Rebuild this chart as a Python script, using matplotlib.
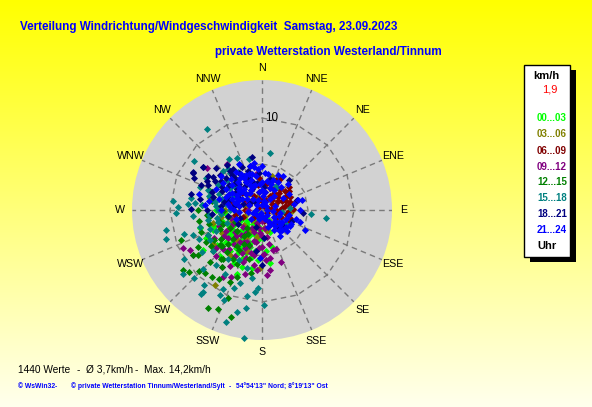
import numpy as np
import matplotlib
matplotlib.use('Agg')
import matplotlib.pyplot as plt
from matplotlib.patches import Rectangle

plt.rcParams['font.family'] = ['Liberation Sans', 'DejaVu Sans']

# ---------------- data (direction in degrees, speed in km/h) ----------------
groups = ['00...03', '03...06', '06...09', '09...12', '12...15', '15...18', '18...21', '21...24']
group_colors = ['#00ff00', '#808000', '#800000', '#800080', '#008000', '#008080', '#000080', '#0000ff']

A_dir = [165,171,190,201,199,254,236,319,356,
         200,205,210,215,220,225,230,235,240,245,
         210,195,190,185,200,205,215,220,225,230,
         235,240,250,255,245,200,210,218,228,238,
         195,188,182,208,222,232,248,212,226,178,
         260,265,270,175,185,192,203,214,243,252,
         215,222,232,208,198,218,228,238,242,205,
         195,230,212,202,250,220,235,225,
         180,150,140,160,200,230]
A_spd = [4.2,5.8,6.4,7.5,6.6,7.0,7.8,4.5,3.0,
         2.0,3.0,4.0,5.0,3.5,4.5,2.5,5.5,3.0,4.0,
         1.5,3.5,4.5,5.5,5.0,6.0,2.5,6.0,3.0,4.0,
         2.0,5.0,3.5,4.5,2.5,3.8,5.5,4.2,5.2,3.8,
         2.8,3.3,4.0,6.5,6.8,6.2,5.8,3.2,2.2,3.0,
         3.0,4.0,5.0,4.5,2.2,5.2,4.8,1.8,6.8,5.5,
         3.8,4.8,4.6,4.6,4.2,5.6,3.6,4.6,3.4,2.4,
         1.8,5.8,6.2,5.6,4.8,3.0,4.2,5.2,
         0.8,1.2,2.0,2.5,0.9,0.7]

B_dir = [16,92,212,182,167,283,
         210,230,250,270,290,300,260,240,220,280,
         320,340,30,60,200,215,235,255,245,225,
         265,285,310,190,175,120,
         230,250,270,210,290,240]
B_spd = [3.9,3.3,9.6,6.3,2.3,5.8,
         2.5,3.5,2.0,3.0,4.0,2.5,4.5,5.0,4.2,1.8,
         2.2,1.5,1.8,2.0,4.8,6.0,6.5,5.5,3.0,1.5,
         2.6,5.5,3.5,3.0,2.0,1.5,
         2.5,3.5,4.0,3.5,2.8,4.0]

C_dir = [0,10,20,30,40,50,60,70,80,90,
         100,110,120,350,340,330,320,310,300,290,
         280,270,355,345,15,25,35,45,55,65,
         75,85,95,105,115,125,135,150,170,200,
         230,250,260,285,315,325,5,60,75,50,
         30,88,
         20,40,60,80,100,30,50,70,90,350,
         330,10,45,65,85,
         30,120,210,300,80]
C_spd = [1.0,2.0,2.5,1.8,3.0,2.2,3.0,1.5,2.5,2.0,
         1.5,2.2,1.8,2.0,3.0,2.5,1.5,2.8,2.0,1.5,
         2.5,1.8,3.5,1.2,3.2,3.6,2.2,1.5,3.6,2.4,
         3.2,1.0,2.8,3.2,3.0,2.6,2.0,1.5,1.2,1.5,
         1.2,2.2,3.0,3.4,3.6,1.0,2.8,1.2,3.8,3.9,
         3.9,3.4,
         1.2,2.0,2.0,3.0,2.6,2.8,3.2,2.8,1.5,2.8,
         1.8,3.0,2.6,3.4,2.2,
         0.5,0.6,0.7,0.5,0.8]

D_dir = [323,307,244,241,237,176,171,205,210,
         170,180,190,200,210,220,230,175,185,195,
         205,215,225,235,185,165,160,195,215,225,
         240,250,200,190,180,170,210,220,230,245,
         255,205,198,188,178,168,210,228,270,300,
         330,350,160,172,
         190,200,210,220,230,185,195,205,215,225,
         240,180,180,150,200]
D_spd = [6.3,7.5,9.5,9.0,8.9,7.1,5.3,8.0,8.4,
         3.0,4.0,5.0,6.0,7.0,5.5,6.5,5.5,6.5,3.5,
         4.5,3.0,4.0,5.0,2.5,4.5,6.0,7.2,7.5,7.0,
         6.0,5.0,2.5,2.0,2.8,2.0,5.8,4.8,3.8,3.5,
         3.5,3.8,5.5,6.0,4.8,3.8,2.2,2.8,1.5,1.8,
         3.5,4.0,4.5,6.6,
         3.5,4.2,4.0,3.5,4.8,4.2,4.8,5.2,4.2,6.0,
         4.5,5.0,1.2,1.8,1.5]

E_dir = [250,233,230,222,204,209,204,196,201,226,
         217,237,275,265,260,200,210,220,230,240,
         245,235,225,215,205,215,225,235,250,255,
         270,280,240,250,230,220,210,195,190,200,
         212,245,258,268,285,290,238,228,218,208,
         215,225,235,245,255,262,240,230,220,210]
E_spd = [9.4,10.8,10.4,9.2,8.6,12.2,11.8,12.1,10.2,9.5,
         9.1,9.0,6.5,6.0,7.0,4.0,5.0,6.0,7.0,8.0,
         6.5,5.5,4.5,3.5,6.5,7.5,8.0,8.5,7.0,6.0,
         7.0,5.5,4.0,4.5,3.5,2.5,3.0,5.5,7.0,7.8,
         8.8,3.2,3.8,4.2,4.0,6.0,6.2,5.8,6.8,4.2,
         4.8,5.2,6.8,5.0,4.8,5.8,7.0,6.0,7.0,6.2]

F_dir = [326,8,306,327,334,346,328,276,290,86,
         30,97,122,258,253,253,238,231,225,218,
         216,216,206,206,203,197,188,183,189,194,
         179,198,188,268,272,275,276,319,96,95,
         33,121,280,290,300,310,285,275,265,255,
         245,260,295,305,315,270,250,240,230,220,
         210,200,225,235,245,215,205,195,185,190,
         250,265,280,300,320,
         270,280,290,260,250,300,310,275,255,285,
         265,245]
F_spd = [10.6,6.3,9.1,6.6,6.3,5.7,4.9,9.7,7.2,3.05,
         3.0,7.0,3.1,10.7,10.9,8.9,10.0,11.1,10.5,10.3,
         11.0,11.3,9.6,10.3,10.6,8.3,7.5,8.5,10.8,11.4,
         10.3,12.8,14.0,9.4,9.1,8.1,7.3,5.3,2.2,5.3,
         3.0,3.2,4.0,5.0,5.5,5.0,6.0,5.0,4.5,5.0,
         5.5,6.0,3.5,4.2,6.0,3.5,4.0,6.5,7.0,7.8,
         8.0,9.0,9.0,8.0,7.5,6.5,6.0,6.5,9.0,9.5,
         8.0,7.5,7.8,7.0,5.8,
         4.8,5.2,6.2,5.0,6.0,4.5,4.0,6.5,7.0,4.5,
         5.8,6.5]

G_dir = [349,299,298,295,306,304,321,42,283,271,
         74,94,133,176,188,180,334,302,306,
         280,290,300,310,320,330,340,350,285,295,
         305,315,325,335,345,355,288,298,308,318,
         328,338,275,270,265,280,292,302,312,322,
         332,342,5,15,240,250,260,200,110,300,320,128,137,
         285,295,305,315,325,300,310,290,320,335,
         345,275,282,298,312]
G_spd = [5.9,8.6,8.5,8.2,7.9,6.4,5.5,4.4,7.9,7.7,
         4.0,4.5,2.7,3.0,4.5,6.0,5.5,6.9,7.9,
         3.0,4.0,5.0,6.0,4.5,3.5,4.5,3.0,5.5,6.5,
         3.5,2.5,5.5,2.5,5.0,4.0,2.2,2.8,4.5,3.8,
         4.8,3.8,4.5,6.0,5.5,6.8,7.2,6.0,5.2,6.2,
         4.2,3.2,2.5,3.5,3.0,2.5,3.8,2.0,3.5,1.5,1.2,3.0,2.5,
         3.8,4.8,5.5,4.2,3.2,3.2,3.5,5.8,5.0,5.2,
         2.8,3.2,4.2,6.8,6.8]

H_dir = [349,333,32,74,76,284,107,115,182,90,
         280,290,300,310,320,330,340,350,0,10,
         20,30,40,300,60,330,80,310,100,110,
         120,130,140,150,160,285,295,305,315,325,
         335,345,355,5,15,25,45,295,325,105,
         125,135,145,275,270,265,290,320,340,300,
         310,330,350,0,10,35,340,75,115,95,
         260,200,230,250,280,275,140,125,345,20,
         300,310,320,330,340,350,0,10,20,30,
         40,315,290,280,270,305,315,325,335,355,
         60,290,100,110,130,120,5,345,295,285,
         0,45,90,135,180,225,270,315,20,160,
         200,250,130,140,150,120,145]
H_spd = [4.8,5.6,4.3,4.1,4.5,7.1,4.3,5.2,5.2,4.1,
         2.5,3.5,4.5,3.0,4.0,2.5,3.5,2.0,3.0,4.0,
         2.5,3.5,2.0,3.2,3.4,4.0,3.5,3.3,3.0,2.0,
         2.5,1.8,2.2,1.5,2.0,4.8,5.5,5.2,4.8,5.0,
         4.2,4.0,4.5,1.5,1.0,4.2,4.0,3.0,2.2,3.8,
         3.2,3.0,3.5,3.5,4.5,2.5,1.5,1.5,1.2,2.5,
         5.8,4.5,5.2,4.8,2.0,1.5,4.2,1.5,3.5,1.2,
         1.5,1.0,1.5,3.0,5.8,6.2,2.8,2.2,2.8,3.0,
         3.8,4.2,3.0,3.5,2.8,3.8,2.2,3.2,3.5,2.5,
         3.2,2.5,2.8,3.8,3.0,2.0,3.5,4.2,3.0,2.8,
         2.6,4.2,2.0,2.8,2.5,1.5,4.0,5.0,4.0,3.0,
         0.5,0.6,0.5,0.7,0.6,0.8,0.6,0.7,0.9,1.0,
         0.4,1.0,3.5,3.0,2.5,3.5,1.8]

series_dirs = [A_dir, B_dir, C_dir, D_dir, E_dir, F_dir, G_dir, H_dir]
series_spds = [A_spd, B_spd, C_spd, D_spd, E_spd, F_spd, G_spd, H_spd]

compass = ['N', 'NNE', 'NE', 'ENE', 'E', 'ESE', 'SE', 'SSE',
           'S', 'SSW', 'SW', 'WSW', 'W', 'WNW', 'NW', 'NNW']
ring_values = [5, 10]
ring_label = '10'
current_speed = '1,9'
title1 = 'Verteilung Windrichtung/Windgeschwindigkeit  Samstag, 23.09.2023'
title2 = 'private Wetterstation Westerland/Tinnum'
stat_count = '1440 Werte'
stat_mean = 'Ø 3,7km/h'
stat_max = 'Max. 14,2km/h'
footer_a = '© WsWin32'
footer_b = '© private Wetterstation Tinnum/Westerland/Sylt'
footer_c = '54°54\'13" Nord; 8°19\'13" Ost'

# ---------------- figure ----------------
W, H = 592, 407
DPI = 100
fig = plt.figure(figsize=(W / DPI, H / DPI), dpi=DPI)


def fx(x):
    return x / W


def fy(y):
    return 1 - y / H


# background gradient (yellow -> pale)
bg = fig.add_axes([0, 0, 1, 1], zorder=-5)
n = 407
img = np.ones((n, 1, 3))
img[:, 0, 2] = np.linspace(0.0, 0.93, n)
bg.imshow(img, aspect='auto', extent=[0, 1, 0, 1], origin='upper')
bg.set_axis_off()

# polar chart
CX, CY, RPX = 262, 210, 130
PX_PER_KMH = 9.2
R_MAX = RPX / PX_PER_KMH
ax = fig.add_axes([fx(CX - RPX), fy(CY + RPX), 2 * RPX / W, 2 * RPX / H],
                  projection='polar', zorder=1)
ax.set_theta_zero_location('N')
ax.set_theta_direction(-1)
ax.set_ylim(0, R_MAX)
ax.set_facecolor('#d2d2d2')
ax.grid(False)
ax.set_xticks([])
ax.set_yticks([])
ax.spines['polar'].set_visible(False)

dash = (0, (4, 3))
for i in range(16):
    th = np.deg2rad(i * 22.5)
    ax.plot([th, th], [0, R_MAX], ls=dash, color='#7a7a7a', lw=1, zorder=2)
ring_th = np.deg2rad(np.arange(0, 361, 22.5))
for rv in ring_values:
    ax.plot(ring_th, np.full(len(ring_th), rv), ls=dash, color='#7a7a7a', lw=1, zorder=2)

ax.annotate(ring_label, xy=(0, 10), xytext=(2.5, 0), textcoords='offset points',
            ha='left', va='center', fontsize=8.4, color='black', zorder=5)

for d, s, c in zip(series_dirs, series_spds, group_colors):
    ax.scatter(np.deg2rad(d), s, s=13, marker='D', c=c, linewidths=0, zorder=3, clip_on=False)

for i, lab in enumerate(compass):
    ax.text(np.deg2rad(i * 22.5), 142 / PX_PER_KMH, lab, ha='center', va='center',
            fontsize=7.7, color='black', clip_on=False)

# titles
fig.text(fx(20), fy(30), title1, fontsize=8.4, weight='bold', color='#0000ff', va='baseline')
fig.text(fx(215), fy(55), title2, fontsize=8.4, weight='bold', color='#0000ff', va='baseline')

# legend box
fig.add_artist(Rectangle((fx(530), fy(262)), 46 / W, 192 / H, transform=fig.transFigure,
                         facecolor='black', edgecolor='none', zorder=10))
fig.add_artist(Rectangle((fx(524), fy(257)), 46 / W, 192 / H, transform=fig.transFigure,
                         facecolor='white', edgecolor='black', lw=1, zorder=11))
fig.text(fx(546), fy(76), 'km/h', ha='center', va='center', fontsize=8, weight='bold',
         color='black', zorder=12)
fig.text(fx(550), fy(89), current_speed, ha='center', va='center', fontsize=8,
         color='#ff0000', zorder=12)
leg_y = [118, 134, 151, 167, 182, 198, 214, 230]
for g, c, yy in zip(groups, group_colors, leg_y):
    fig.text(fx(552), fy(yy), g, ha='center', va='center', fontsize=7, weight='bold',
             color=c, zorder=12)
fig.text(fx(547), fy(246), 'Uhr', ha='center', va='center', fontsize=8, weight='bold',
         color='black', zorder=12)

# bottom statistics
fig.text(fx(18), fy(373), stat_count, fontsize=7.3, color='black', va='baseline')
fig.text(fx(77), fy(373), '-', fontsize=7.3, color='black', va='baseline')
fig.text(fx(86), fy(373), stat_mean, fontsize=7.3, color='black', va='baseline')
fig.text(fx(135), fy(373), '-', fontsize=7.3, color='black', va='baseline')
fig.text(fx(144), fy(373), stat_max, fontsize=7.3, color='black', va='baseline')

fig.text(fx(18), fy(388.5), footer_a, fontsize=4.9, weight='bold', color='#0000ff', va='baseline')
fig.text(fx(55), fy(388.5), '-', fontsize=4.9, weight='bold', color='#0000ff', va='baseline')
fig.text(fx(71), fy(388.5), footer_b, fontsize=4.9, weight='bold', color='#0000ff', va='baseline')
fig.text(fx(229), fy(388.5), '-', fontsize=4.9, weight='bold', color='#0000ff', va='baseline')
fig.text(fx(236), fy(388.5), footer_c, fontsize=4.9, weight='bold', color='#0000ff', va='baseline')

fig.savefig('out.png', dpi=DPI)
